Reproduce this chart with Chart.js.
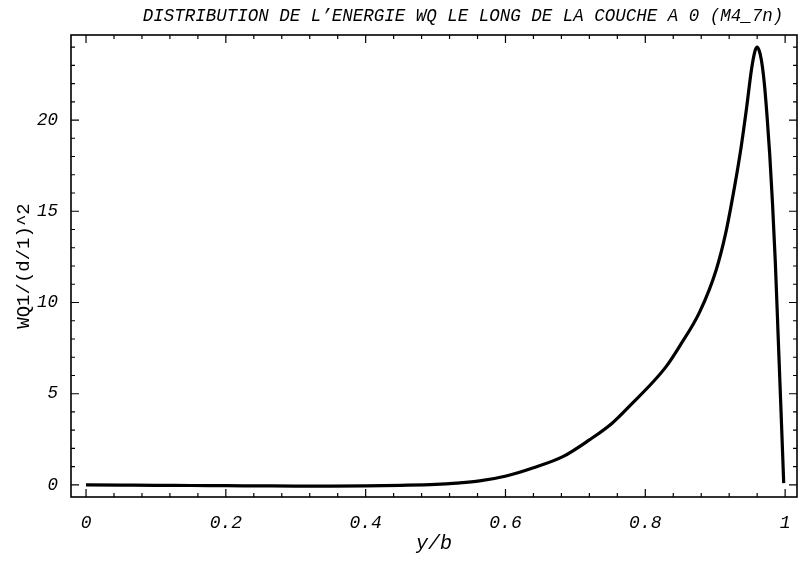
<!DOCTYPE html>
<html>
<head>
<meta charset="utf-8">
<script src="https://cdn.jsdelivr.net/npm/chart.js@4/dist/chart.umd.min.js"></script>
<style>
  html, body { margin: 0; padding: 0; background: #fff; }
  #wrap { width: 801px; height: 564px; }
</style>
</head>
<body>
<div id="wrap"><canvas id="energyChart" width="801" height="564"></canvas></div>
<script>
// y/b positions and energy values
const yb = [0, 0.05, 0.1, 0.15, 0.2, 0.25, 0.3, 0.35, 0.4, 0.45, 0.5, 0.53, 0.563, 0.601, 0.639,
  0.682, 0.72, 0.753, 0.782, 0.81, 0.83, 0.849, 0.878, 0.9015, 0.915, 0.927, 0.937, 0.945,
  0.952, 0.957, 0.96, 0.963, 0.966, 0.97, 0.974, 0.978, 0.982, 0.986, 0.99, 0.994, 0.998];
const wq = [0, -0.01, -0.02, -0.03, -0.04, -0.05, -0.06, -0.06, -0.05, -0.02, 0.03, 0.1, 0.22, 0.49, 0.93,
  1.55, 2.47, 3.4, 4.5, 5.6, 6.5, 7.6, 9.5, 11.8, 13.8, 16.2, 18.5, 20.7,
  22.8, 23.8, 24.0, 23.8, 23.3, 22.1, 20.3, 18.1, 15.4, 12.2, 8.2, 4.2, 0.1];

const xTicks = [0, 0.2, 0.4, 0.6, 0.8, 1];
const yTicks = [0, 5, 10, 15, 20];

const titleText = "DISTRIBUTION DE L\u2019ENERGIE WQ LE LONG DE LA COUCHE A 0 (M4_7n)";
const mono = "'Liberation Mono', 'DejaVu Sans Mono', monospace";

// frame with inward ticks on all four sides, like the original plot
const framePlugin = {
  id: "frame",
  afterDatasetsDraw(chart) {
    const ctx = chart.ctx;
    const a = chart.chartArea;
    const xs = chart.scales.x, ys = chart.scales.y;
    ctx.save();
    ctx.strokeStyle = "#000";
    ctx.lineWidth = 1.6;
    ctx.strokeRect(a.left, a.top, a.right - a.left, a.bottom - a.top);
    ctx.lineWidth = 1.2;
    ctx.beginPath();
    for (let i = 0; i <= 25; i++) {
      const v = i * 0.04;
      const px = xs.getPixelForValue(v);
      const len = i % 5 === 0 ? 8 : 4;
      ctx.moveTo(px, a.bottom); ctx.lineTo(px, a.bottom - len);
      ctx.moveTo(px, a.top); ctx.lineTo(px, a.top + len);
    }
    for (let v = 0; v <= 24; v++) {
      const py = ys.getPixelForValue(v);
      const len = v % 5 === 0 ? 8 : 4;
      ctx.moveTo(a.left, py); ctx.lineTo(a.left + len, py);
      ctx.moveTo(a.right, py); ctx.lineTo(a.right - len, py);
    }
    ctx.stroke();
    ctx.restore();
  },
  afterDraw(chart) {
    const ctx = chart.ctx;
    ctx.save();
    ctx.fillStyle = "#000";
    ctx.font = "italic 17.5px " + mono;
    ctx.textAlign = "center";
    ctx.textBaseline = "alphabetic";
    ctx.fillText(titleText, 463, 21);
    ctx.restore();
  }
};

new Chart(document.getElementById("energyChart").getContext("2d"), {
  type: "line",
  data: {
    datasets: [{
      data: yb.map((x, i) => ({ x: x, y: wq[i] })),
      borderColor: "#000",
      borderWidth: 3.2,
      pointRadius: 0,
      cubicInterpolationMode: "monotone",
      fill: false
    }]
  },
  options: {
    responsive: false,
    animation: false,
    layout: { padding: { top: 35, right: 4, left: 0, bottom: 0 } },
    plugins: { legend: { display: false }, tooltip: { enabled: false }, title: { display: false } },
    scales: {
      x: {
        type: "linear",
        min: -0.0215,
        max: 1.017,
        grid: { display: false, drawTicks: false },
        border: { display: false },
        afterBuildTicks: s => { s.ticks = xTicks.map(v => ({ value: v })); },
        afterFit: s => { s.height = 67; s.paddingLeft = 0; s.paddingRight = 0; },
        ticks: {
          color: "#000",
          padding: 15,
          maxRotation: 0,
          font: { family: mono, size: 18, style: "italic" },
          callback: v => String(v)
        },
        title: {
          display: true,
          text: "y/b",
          color: "#000",
          font: { family: mono, size: 20, style: "italic" },
          padding: { top: 0, bottom: 8 }
        }
      },
      y: {
        min: -0.66,
        max: 24.66,
        grid: { display: false, drawTicks: false },
        border: { display: false },
        afterBuildTicks: s => { s.ticks = yTicks.map(v => ({ value: v })); },
        afterFit: s => { s.width = 71; s.paddingTop = 0; s.paddingBottom = 0; },
        ticks: {
          color: "#000",
          padding: 13,
          font: { family: mono, size: 17.5, style: "italic" },
          callback: v => String(v)
        },
        title: {
          display: true,
          text: "WQ1/(d/1)^2",
          color: "#000",
          font: { family: mono, size: 19 },
          padding: { top: 13, bottom: 0 }
        }
      }
    }
  },
  plugins: [framePlugin]
});
</script>
</body>
</html>
